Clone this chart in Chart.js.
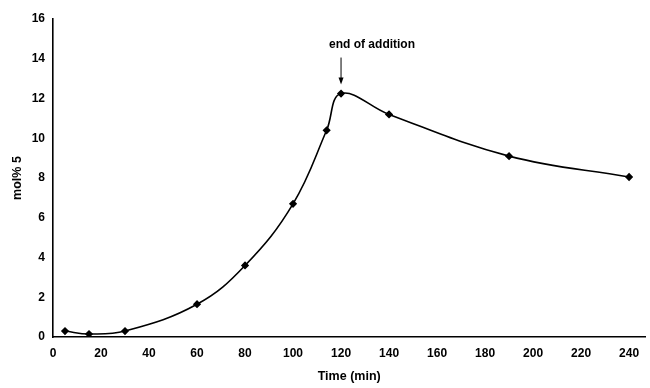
<!DOCTYPE html>
<html><head><meta charset="utf-8">
<script src="https://cdn.jsdelivr.net/npm/chart.js@4/dist/chart.umd.min.js"></script>
<style>html,body{margin:0;padding:0;background:#fff}#wrap{width:650px;height:388px}</style>
</head><body><div id="wrap"><canvas id="c" width="650" height="388"></canvas></div>
<script>
const timeMin = [5, 15, 30, 60, 80, 100, 114, 120, 140, 190, 240];
const molPct = [0.3, 0.15, 0.3, 1.65, 3.6, 6.7, 10.4, 12.25, 11.2, 9.1, 8.05];
const xTicks = [0, 20, 40, 60, 80, 100, 120, 140, 160, 180, 200, 220, 240];
const yTicks = [0, 2, 4, 6, 8, 10, 12, 14, 16];
const annotationText = "end of addition";
const annotationX = 120;
const annotationY = 12.25;

const FONT = "'Liberation Sans', Arial, sans-serif";

const annot = {
  id: 'annot',
  afterDatasetsDraw(chart) {
    const ctx = chart.ctx;
    const px = chart.scales.x.getPixelForValue(annotationX);
    const py = chart.scales.y.getPixelForValue(annotationY);
    ctx.save();
    ctx.strokeStyle = '#000'; ctx.fillStyle = '#000'; ctx.lineWidth = 1;
    ctx.beginPath(); ctx.moveTo(px, py - 36); ctx.lineTo(px, py - 12); ctx.stroke();
    ctx.beginPath(); ctx.moveTo(px, py - 9); ctx.lineTo(px - 2.5, py - 16); ctx.lineTo(px + 2.5, py - 16); ctx.closePath(); ctx.fill();
    ctx.font = "bold 12px " + FONT;
    ctx.textAlign = 'center'; ctx.textBaseline = 'middle';
    ctx.fillText(annotationText, px + 31, py - 49);
    ctx.restore();
  }
};

new Chart(document.getElementById('c'), {
  type: 'line',
  data: {
    datasets: [{
      data: timeMin.map((t, i) => ({x: t, y: molPct[i]})),
      borderColor: '#000', backgroundColor: '#000', borderWidth: 1.6,
      pointStyle: 'rectRot', pointRadius: 3, pointHoverRadius: 3,
      tension: 0.4, fill: false
    }]
  },
  options: {
    responsive: false, animation: false,
    layout: {padding: {top: 19, right: 0, left: 0, bottom: 0}},
    plugins: {legend: {display: false}, tooltip: {enabled: false}},
    scales: {
      x: {
        type: 'linear', min: 0, max: 246.8,
        afterBuildTicks(s) { s.ticks = xTicks.map(v => ({value: v})); },
        afterFit(s) { s.height = 51; s.paddingLeft = 0; s.paddingRight = 0; },
        grid: {display: false, drawTicks: true, tickLength: 5, tickColor: '#000'},
        border: {color: '#000', width: 1.6},
        ticks: {color: '#000', font: {family: FONT, size: 12, weight: 'bold'}, padding: 4, maxRotation: 0, autoSkip: false},
        title: {display: true, text: 'Time (min)', color: '#000', font: {family: FONT, size: 12.5, weight: 'bold'}, padding: {top: 10}}
      },
      y: {
        min: 0, max: 16,
        afterBuildTicks(s) { s.ticks = yTicks.map(v => ({value: v})); },
        afterFit(s) { s.width = 53; },
        grid: {display: false, drawTicks: true, tickLength: 5, tickColor: '#000'},
        border: {color: '#000', width: 1.6},
        ticks: {color: '#000', font: {family: FONT, size: 12, weight: 'bold'}, padding: 3},
        title: {display: true, text: 'mol% 5', color: '#000', font: {family: FONT, size: 12.5, weight: 'bold'}, padding: {top: 10, bottom: 4}}
      }
    }
  },
  plugins: [annot]
});
</script></body></html>
